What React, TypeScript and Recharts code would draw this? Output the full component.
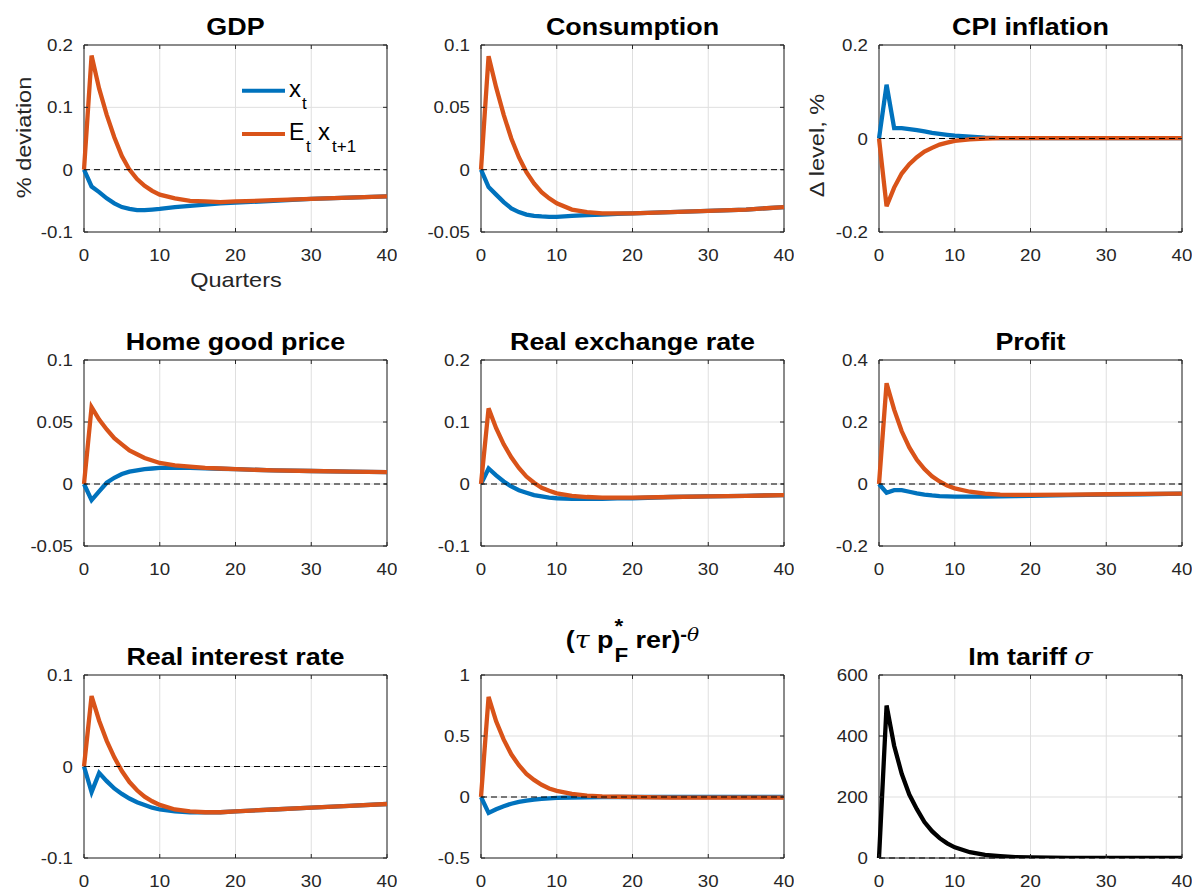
import React from "react";
import {
  CartesianGrid,
  Legend,
  Line,
  LineChart,
  ReferenceArea,
  ReferenceLine,
  XAxis,
  YAxis,
} from "recharts";

// quarters after the shock (sampled)
const quarters = [0, 1, 2, 3, 4, 5, 6, 7, 8, 9, 10, 12, 14, 16, 18, 20, 25, 30, 35, 40];

const gdpX = [0, -0.027, -0.036, -0.046, -0.054, -0.06, -0.063, -0.065, -0.065, -0.064, -0.063, -0.06, -0.058, -0.056, -0.054, -0.053, -0.05, -0.047, -0.045, -0.043];
const gdpE = [0, 0.183, 0.13, 0.088, 0.052, 0.022, 0, -0.015, -0.026, -0.034, -0.04, -0.046, -0.05, -0.051, -0.052, -0.051, -0.049, -0.047, -0.045, -0.043];

const consX = [0, -0.014, -0.02, -0.026, -0.031, -0.034, -0.036, -0.037, -0.0375, -0.0378, -0.0378, -0.037, -0.0365, -0.036, -0.0355, -0.035, -0.034, -0.033, -0.032, -0.03];
const consE = [0, 0.091, 0.066, 0.044, 0.025, 0.01, -0.002, -0.011, -0.018, -0.023, -0.027, -0.032, -0.034, -0.035, -0.035, -0.035, -0.034, -0.033, -0.032, -0.03];

const cpiX = [0, 0.115, 0.022, 0.022, 0.02, 0.018, 0.015, 0.012, 0.01, 0.008, 0.006, 0.004, 0.002, 0.001, 0.001, 0.001, 0.001, 0.001, 0.001, 0.001];
const cpiE = [0, -0.145, -0.105, -0.075, -0.055, -0.04, -0.028, -0.02, -0.013, -0.009, -0.005, -0.002, 0, 0.001, 0.001, 0.001, 0.001, 0.001, 0.001, 0.001];

const homeX = [0, -0.013, -0.006, 0.001, 0.005, 0.008, 0.01, 0.011, 0.012, 0.0125, 0.013, 0.013, 0.013, 0.0127, 0.0123, 0.012, 0.011, 0.0105, 0.01, 0.0095];
const homeE = [0, 0.062, 0.052, 0.044, 0.037, 0.032, 0.027, 0.024, 0.021, 0.019, 0.017, 0.015, 0.014, 0.013, 0.0125, 0.012, 0.011, 0.0105, 0.01, 0.0095];

const rerX = [0, 0.025, 0.014, 0.004, -0.004, -0.01, -0.014, -0.018, -0.02, -0.022, -0.023, -0.024, -0.024, -0.024, -0.023, -0.023, -0.021, -0.02, -0.019, -0.018];
const rerE = [0, 0.122, 0.09, 0.064, 0.043, 0.026, 0.012, 0.002, -0.006, -0.011, -0.015, -0.019, -0.021, -0.022, -0.022, -0.022, -0.021, -0.02, -0.019, -0.018];

const profitX = [0, -0.028, -0.02, -0.02, -0.025, -0.03, -0.034, -0.037, -0.039, -0.04, -0.041, -0.041, -0.041, -0.04, -0.039, -0.038, -0.036, -0.034, -0.033, -0.031];
const profitE = [0, 0.325, 0.24, 0.17, 0.118, 0.078, 0.048, 0.025, 0.008, -0.005, -0.014, -0.025, -0.031, -0.034, -0.035, -0.035, -0.034, -0.033, -0.032, -0.031];

const rateX = [0, -0.028, -0.007, -0.016, -0.024, -0.03, -0.035, -0.039, -0.042, -0.045, -0.047, -0.049, -0.05, -0.05, -0.05, -0.049, -0.047, -0.045, -0.043, -0.041];
const rateE = [0, 0.077, 0.05, 0.028, 0.01, -0.005, -0.017, -0.026, -0.033, -0.038, -0.042, -0.047, -0.049, -0.05, -0.05, -0.049, -0.047, -0.045, -0.043, -0.041];

const importX = [0, -0.13, -0.1, -0.075, -0.055, -0.04, -0.03, -0.022, -0.016, -0.012, -0.008, -0.004, -0.002, -0.001, 0, 0, 0, 0, 0, 0];
const importE = [0, 0.82, 0.62, 0.47, 0.35, 0.26, 0.19, 0.14, 0.1, 0.07, 0.05, 0.025, 0.012, 0.005, 0.002, 0, -0.005, -0.005, -0.005, -0.005];

const tariff = [0, 500, 368, 276, 208, 160, 118, 88, 65, 48, 35, 19, 10, 6, 3, 2, 0.5, 0, 0, 0];

const xTicks = [0, 10, 20, 30, 40];

const BLUE = "#0072BD";
const ORANGE = "#D95319";
const AXIS = "#262626";
const GRID = "#dfdfdf";
const FONT = '"Liberation Sans", Arial, Helvetica, sans-serif';
const GREEK = '"DejaVu Serif", "Liberation Serif", serif';

const PW = 303; // plot width
const YW = 80; // room left of the plot inside each chart
const TOPM = 45;
const SX = 1.12; // horizontal stretch of the text
const TL = 4; // tick length

const colLeft = [84, 481, 879];
const rowTop = [45, 360, 675];
const rowHeight = [187, 186, 183];

type Series = { key: string; values: number[]; color: string };

type PanelProps = {
  title: React.ReactNode;
  titleLift?: number;
  col: number;
  row: number;
  series: Series[];
  yDomain: [number, number];
  yTicks: number[];
  legend?: boolean;
};

function XTick(props: any) {
  const { x, y, payload, ph } = props;
  return (
    <g>
      <line x1={x} x2={x} y1={y} y2={y - TL} stroke={AXIS} />
      <line x1={x} x2={x} y1={y - ph} y2={y - ph + TL} stroke={AXIS} />
      <text
        transform={`translate(${x},${y + 29}) scale(${SX},1)`}
        textAnchor="middle"
        fontSize={16.7}
        fontFamily={FONT}
        fill={AXIS}
      >
        {String(payload.value)}
      </text>
    </g>
  );
}

function YTick(props: any) {
  const { x, y, payload } = props;
  return (
    <g>
      <line x1={x} x2={x + TL} y1={y} y2={y} stroke={AXIS} />
      <line x1={x + PW} x2={x + PW - TL} y1={y} y2={y} stroke={AXIS} />
      <text
        transform={`translate(${x - 11},${y + 6}) scale(${SX},1)`}
        textAnchor="end"
        fontSize={16.7}
        fontFamily={FONT}
        fill={AXIS}
      >
        {String(payload.value)}
      </text>
    </g>
  );
}

function GdpLegend() {
  return (
    <svg width={130} height={82} style={{ overflow: "visible" }}>
      <line x1={0} x2={43} y1={14.7} y2={14.7} stroke={BLUE} strokeWidth={4} />
      <line x1={0} x2={43} y1={58} y2={58} stroke={ORANGE} strokeWidth={4} />
      <g fontFamily={FONT} fill="#000">
        <text x={47} y={20.7} fontSize={24}>x</text>
        <text x={60} y={33.3} fontSize={17}>t</text>
        <text x={47} y={64} fontSize={23}>E</text>
        <text x={64} y={75.7} fontSize={17}>t</text>
        <text x={76} y={64} fontSize={24}>x</text>
        <text x={90} y={75.7} fontSize={17}>t+1</text>
      </g>
    </svg>
  );
}

function Panel({ title, titleLift = 0, col, row, series, yDomain, yTicks, legend }: PanelProps) {
  const left = colLeft[col];
  const top = rowTop[row];
  const ph = rowHeight[row];
  const data = quarters.map((q, i) => {
    const point: Record<string, number> = { q };
    series.forEach((s) => {
      point[s.key] = s.values[i];
    });
    return point;
  });

  return (
    <>
      <div
        style={{
          position: "absolute",
          left,
          top: top - 30 - titleLift,
          width: PW,
          textAlign: "center",
          fontFamily: FONT,
          fontWeight: "bold",
          fontSize: 24,
          lineHeight: "24px",
          color: "#000",
          whiteSpace: "nowrap",
          transform: `scaleX(${SX})`,
        }}
      >
        {title}
      </div>
      <div style={{ position: "absolute", left: left - YW, top: top - TOPM }}>
        <LineChart
          width={YW + PW + 10}
          height={TOPM + ph + 40}
          data={data}
          margin={{ top: TOPM, right: 10, bottom: 0, left: 0 }}
        >
          <CartesianGrid stroke={GRID} strokeWidth={1} />
          <XAxis
            dataKey="q"
            type="number"
            domain={[0, 40]}
            ticks={xTicks}
            interval={0}
            height={40}
            tickSize={0}
            tickMargin={0}
            axisLine={false}
            tickLine={false}
            tick={(p: any) => <XTick {...p} ph={ph} />}
          />
          <YAxis
            type="number"
            domain={yDomain}
            ticks={yTicks}
            interval={0}
            allowDataOverflow
            width={YW}
            tickSize={0}
            tickMargin={0}
            axisLine={false}
            tickLine={false}
            tick={(p: any) => <YTick {...p} />}
          />
          <ReferenceArea
            x1={0}
            x2={40}
            y1={yDomain[0]}
            y2={yDomain[1]}
            fill="none"
            stroke={AXIS}
            strokeWidth={1}
            ifOverflow="visible"
          />
          {series.map((s) => (
            <Line
              key={s.key}
              type="linear"
              dataKey={s.key}
              stroke={s.color}
              strokeWidth={4.3}
              dot={false}
              activeDot={false}
              isAnimationActive={false}
            />
          ))}
          <ReferenceLine y={0} stroke="#000" strokeWidth={1} strokeDasharray="6 4" />
          {legend && (
            <Legend
              layout="vertical"
              align="center"
              verticalAlign="middle"
              wrapperStyle={{ left: 238, top: 76, width: 130, height: 82 }}
              content={() => <GdpLegend />}
            />
          )}
        </LineChart>
      </div>
    </>
  );
}

const greek: React.CSSProperties = {
  fontFamily: GREEK,
  fontStyle: "italic",
  fontWeight: "normal",
};

const rerTitle = (
  <span>
    (<span style={greek}>τ</span> p
    <span style={{ display: "inline-block", position: "relative", width: 13, height: 0 }}>
      <span style={{ position: "absolute", left: 1, bottom: 12, fontSize: 20, lineHeight: "20px" }}>*</span>
      <span style={{ position: "absolute", left: 1, bottom: -17, fontSize: 20, lineHeight: "20px" }}>F</span>
    </span>
    {" rer)"}
    <span style={{ fontSize: 18, lineHeight: 0, verticalAlign: "7px" }}>
      -<span style={greek}>θ</span>
    </span>
  </span>
);

const tariffTitle = (
  <span>
    Im tariff <span style={greek}>σ</span>
  </span>
);

const sideLabel: React.CSSProperties = {
  position: "absolute",
  fontFamily: FONT,
  fontSize: 21,
  lineHeight: "21px",
  color: AXIS,
  textAlign: "center",
  whiteSpace: "nowrap",
};

export default function App() {
  return (
    <div
      style={{
        position: "absolute",
        left: 0,
        top: 0,
        width: 1193,
        height: 890,
        background: "#fff",
        overflow: "hidden",
      }}
    >
      <Panel
        title="GDP"
        col={0}
        row={0}
        legend
        yDomain={[-0.1, 0.2]}
        yTicks={[-0.1, 0, 0.1, 0.2]}
        series={[
          { key: "x", values: gdpX, color: BLUE },
          { key: "e", values: gdpE, color: ORANGE },
        ]}
      />
      <Panel
        title="Consumption"
        col={1}
        row={0}
        yDomain={[-0.05, 0.1]}
        yTicks={[-0.05, 0, 0.05, 0.1]}
        series={[
          { key: "x", values: consX, color: BLUE },
          { key: "e", values: consE, color: ORANGE },
        ]}
      />
      <Panel
        title="CPI inflation"
        col={2}
        row={0}
        yDomain={[-0.2, 0.2]}
        yTicks={[-0.2, 0, 0.2]}
        series={[
          { key: "x", values: cpiX, color: BLUE },
          { key: "e", values: cpiE, color: ORANGE },
        ]}
      />
      <Panel
        title="Home good price"
        col={0}
        row={1}
        yDomain={[-0.05, 0.1]}
        yTicks={[-0.05, 0, 0.05, 0.1]}
        series={[
          { key: "x", values: homeX, color: BLUE },
          { key: "e", values: homeE, color: ORANGE },
        ]}
      />
      <Panel
        title="Real exchange rate"
        col={1}
        row={1}
        yDomain={[-0.1, 0.2]}
        yTicks={[-0.1, 0, 0.1, 0.2]}
        series={[
          { key: "x", values: rerX, color: BLUE },
          { key: "e", values: rerE, color: ORANGE },
        ]}
      />
      <Panel
        title="Profit"
        col={2}
        row={1}
        yDomain={[-0.2, 0.4]}
        yTicks={[-0.2, 0, 0.2, 0.4]}
        series={[
          { key: "x", values: profitX, color: BLUE },
          { key: "e", values: profitE, color: ORANGE },
        ]}
      />
      <Panel
        title="Real interest rate"
        col={0}
        row={2}
        yDomain={[-0.1, 0.1]}
        yTicks={[-0.1, 0, 0.1]}
        series={[
          { key: "x", values: rateX, color: BLUE },
          { key: "e", values: rateE, color: ORANGE },
        ]}
      />
      <Panel
        title={rerTitle}
        titleLift={17}
        col={1}
        row={2}
        yDomain={[-0.5, 1]}
        yTicks={[-0.5, 0, 0.5, 1]}
        series={[
          { key: "x", values: importX, color: BLUE },
          { key: "e", values: importE, color: ORANGE },
        ]}
      />
      <Panel
        title={tariffTitle}
        col={2}
        row={2}
        yDomain={[0, 600]}
        yTicks={[0, 200, 400, 600]}
        series={[{ key: "s", values: tariff, color: "#000" }]}
      />

      <div
        style={{
          ...sideLabel,
          left: 23 - 70,
          top: 137 - 10.5,
          width: 140,
          transform: `rotate(-90deg) scaleX(${SX})`,
        }}
      >
        % deviation
      </div>
      <div
        style={{
          ...sideLabel,
          left: 816 - 70,
          top: 145 - 10.5,
          width: 140,
          transform: `rotate(-90deg) scaleX(${SX})`,
        }}
      >
        Δ level, %
      </div>
      <div
        style={{
          ...sideLabel,
          left: 236 - 70,
          top: 269,
          width: 140,
          transform: `scaleX(${SX})`,
        }}
      >
        Quarters
      </div>
    </div>
  );
}
